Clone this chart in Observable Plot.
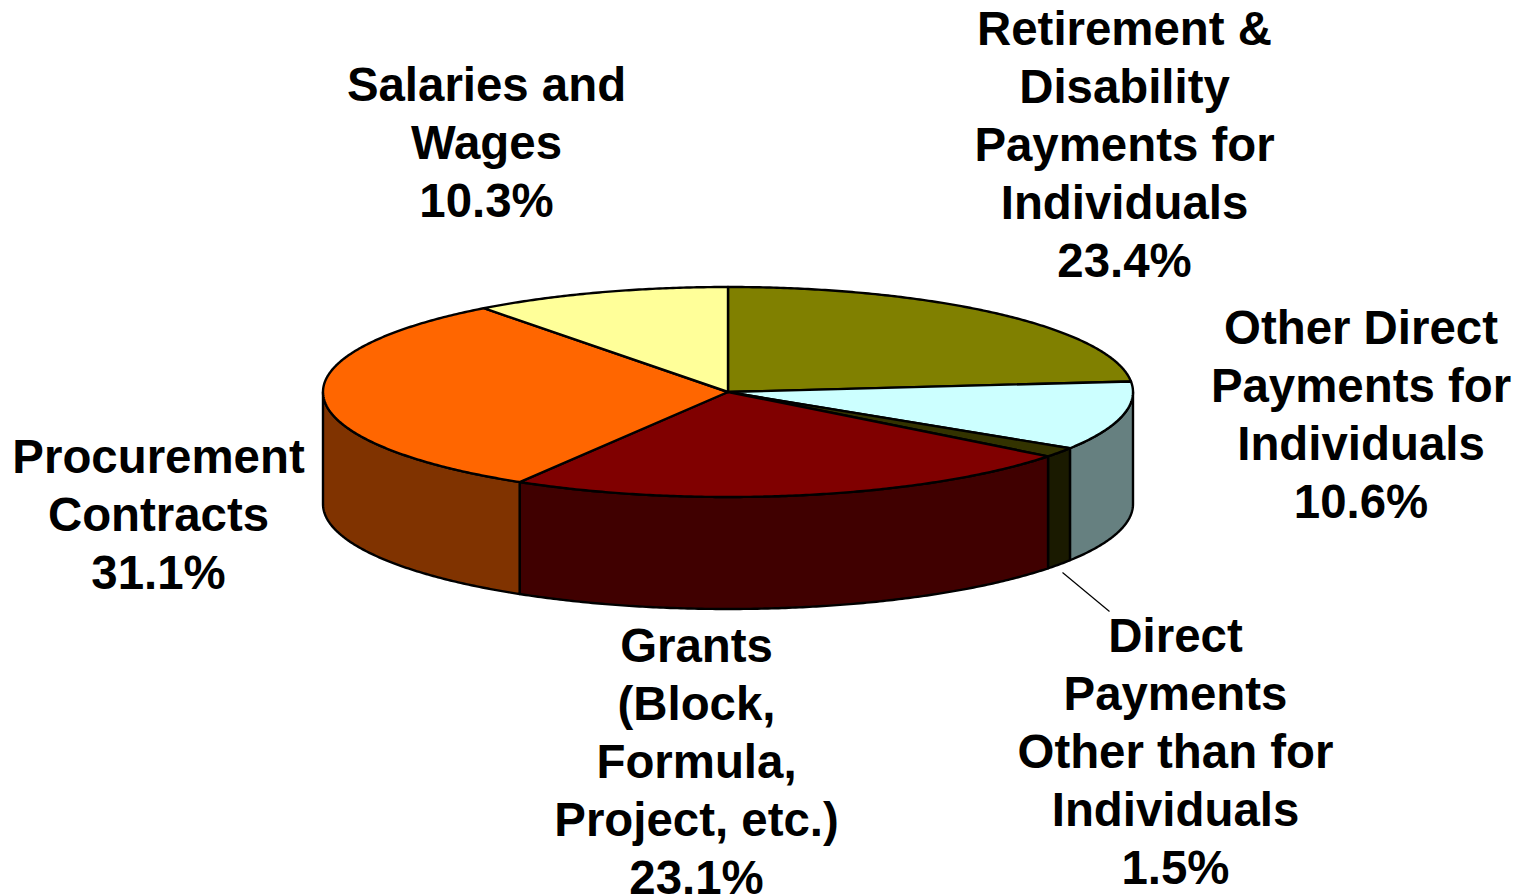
<!DOCTYPE html>
<html><head><meta charset="utf-8">
<style>html,body{margin:0;padding:0;background:#fff;overflow:hidden}svg{display:block}</style>
<script src="https://cdn.jsdelivr.net/npm/d3@7"></script>
<script src="https://cdn.jsdelivr.net/npm/@observablehq/plot@0.6"></script>
</head><body><div id="chart"></div>
<script>
const categories = ["Retirement &\nDisability\nPayments for\nIndividuals","Other Direct\nPayments for\nIndividuals","Direct\nPayments\nOther than for\nIndividuals","Grants\n(Block,\nFormula,\nProject, etc.)","Procurement\nContracts","Salaries and\nWages"];
const shares = [23.4,10.6,1.5,23.1,31.1,10.3];
const topColors = ["#808000","#CCFFFF","#333300","#800000","#FF6600","#FFFF99"];
const sideColors = ["#404000","#668080","#1A1A00","#400000","#803300","#808040"];
const labelX = [1124,1360.5,1175,696,158,486];
const labelY = [142,412,749,759,511.5,139.5];

const cx = 727.5, cy = 391.5, rx = 405, ry = 105, depth = 112;
const rad = d => d * Math.PI / 180;
const px = a => cx + rx * Math.sin(rad(a));
const py = a => cy - ry * Math.cos(rad(a));

let acc = 0;
const slices = shares.map((v, i) => {
  const start = acc / 100 * 360;
  acc += v;
  const end = i === shares.length - 1 ? 360 : acc / 100 * 360;
  return {i, start, end};
});
const sweep = (a, b) => {
  const n = Math.max(2, Math.ceil(b - a) * 2), out = [];
  for (let k = 0; k <= n; k++) out.push(a + (b - a) * k / n);
  return out;
};
const tops = slices.flatMap(s => {
  const pts = [[cx, cy], ...sweep(s.start, s.end).map(a => [px(a), py(a)]), [cx, cy]];
  return pts.map(([x, y]) => ({x, y, id: s.i, fill: topColors[s.i]}));
});
const walls = slices.flatMap(s => {
  const a = Math.max(s.start, 90), b = Math.min(s.end, 270);
  if (b <= a) return [];
  const arc = sweep(a, b);
  const pts = [...arc.map(t => [px(t), py(t)]), ...arc.slice().reverse().map(t => [px(t), py(t) + depth]), [px(a), py(a)]];
  return pts.map(([x, y]) => ({x, y, id: s.i, fill: sideColors[s.i]}));
});
const labels = categories.map((c, i) => ({text: `${c}\n${shares[i].toFixed(1)}%`, x: labelX[i], y: labelY[i]}));
const leader = [{x1: 1062, y1: 572, x2: 1109, y2: 611}];

const lineOpts = {x: "x", y: "y", z: "id", fill: "fill", stroke: "#000", strokeWidth: 2.4, strokeLinejoin: "round"};
const chart = Plot.plot({
  width: 1527, height: 896, margin: 0,
  x: {domain: [0, 1527], range: [0, 1527], axis: null},
  y: {domain: [0, 896], range: [0, 896], axis: null},
  color: {type: "identity"},
  style: {background: "#fff"},
  marks: [
    Plot.line(walls, lineOpts),
    Plot.line(tops, lineOpts),
    Plot.link(leader, {x1: "x1", y1: "y1", x2: "x2", y2: "y2", stroke: "#000", strokeWidth: 1.2}),
    Plot.text(labels, {x: "x", y: "y", text: "text", fill: "#000", fontSize: 47.4, fontWeight: "bold",
      fontFamily: "Liberation Sans", lineHeight: 1.223, lineAnchor: "middle", textAnchor: "middle"})
  ]
});
document.getElementById("chart").append(chart);
</script></body></html>
